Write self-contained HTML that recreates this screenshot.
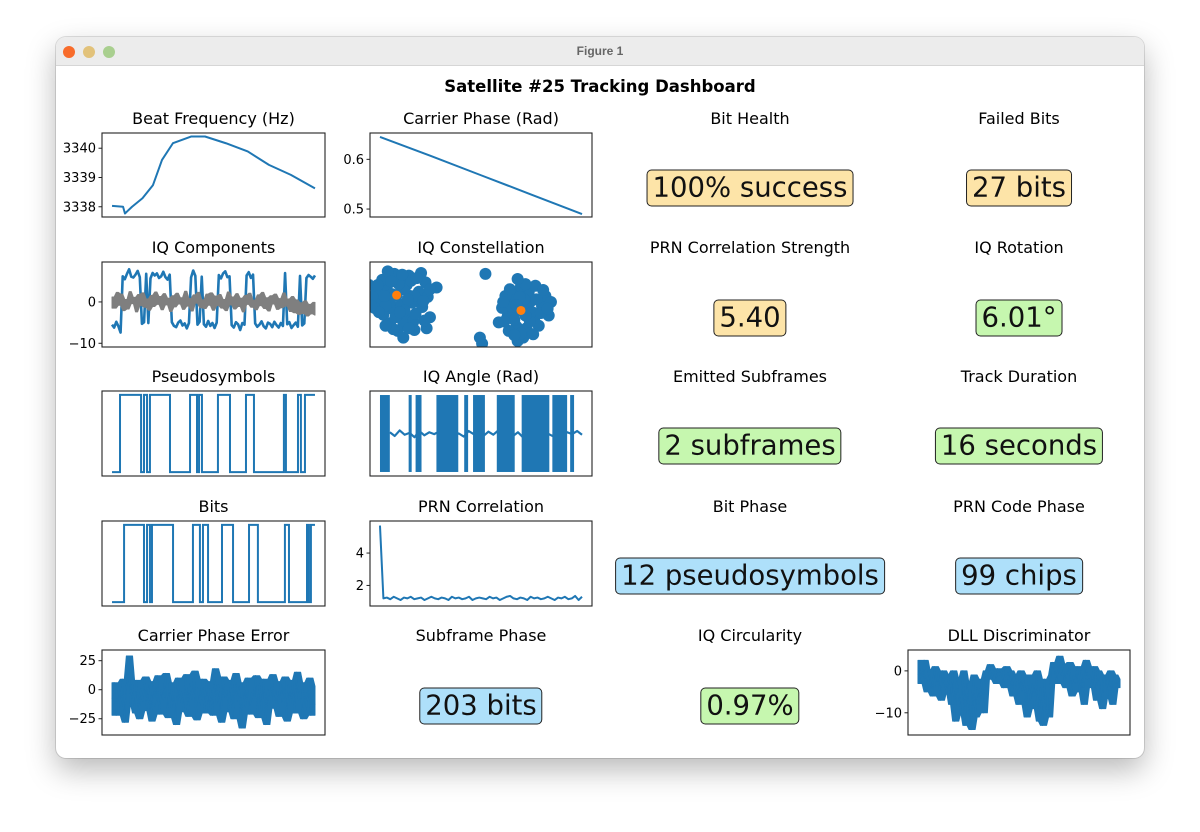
<!DOCTYPE html>
<html><head><meta charset="utf-8"><style>
body{margin:0;background:#fff;width:1200px;height:832px;overflow:hidden;position:relative;font-family:"DejaVu Sans","Liberation Sans",sans-serif}
#win{position:absolute;left:56px;top:37px;width:1088px;height:721px;background:#fff;border-radius:10px;box-shadow:0 12px 30px rgba(0,0,0,0.28),0 0 0 1px rgba(0,0,0,0.12);overflow:hidden}
#bar{position:absolute;left:0;top:0;width:1088px;height:28px;background:#ececec;border-bottom:1px solid #d6d6d6}
#bar .t{position:absolute;left:0;width:100%;top:7px;text-align:center;font:bold 12px "Liberation Sans",sans-serif;color:#666}
.dot{position:absolute;top:9px;width:12px;height:12px;border-radius:50%}
.val{position:absolute;transform:translate(-50%,-50%);font-size:27.5px;line-height:33px;padding:1px 5px 1px 5px;border:1.3px solid #222;border-radius:5px;white-space:nowrap;color:#111}
.y{background:#fde4a8}.g{background:#c6f7af}.b{background:#aee0fa}
svg{position:absolute;left:0;top:0}
</style></head><body>
<div id="win">
<div id="bar">
<div class="dot" style="left:7px;background:#f86c2b"></div>
<div class="dot" style="left:27px;background:#e2c27a"></div>
<div class="dot" style="left:47px;background:#a9cf8f"></div>
<div class="t">Figure 1</div>
</div>
</div>
<svg id="chart" width="1200" height="832" font-family="DejaVu Sans, Liberation Sans, sans-serif">
<text x="600" y="92" text-anchor="middle" font-weight="bold" font-size="16.5" fill="#000">Satellite #25 Tracking Dashboard</text>
</svg>
<div class="val y" style="left:750px;top:188px">100% success</div>
<div class="val y" style="left:1019px;top:188px">27 bits</div>
<div class="val y" style="left:750px;top:318px">5.40</div>
<div class="val g" style="left:1019px;top:318px">6.01°</div>
<div class="val g" style="left:750px;top:446px">2 subframes</div>
<div class="val g" style="left:1019px;top:446px">16 seconds</div>
<div class="val b" style="left:750px;top:576px">12 pseudosymbols</div>
<div class="val b" style="left:1019px;top:576px">99 chips</div>
<div class="val b" style="left:481px;top:706px">203 bits</div>
<div class="val g" style="left:750px;top:706px">0.97%</div>
<script>
// ---- data ----
const beatT=[0,0.87,1.02,1.58,2.4,3.23,3.94,4.8,6.23,7.33,8.98,10.7,12.37,14.1,16];
const beatHz=[3338.03,3338.0,3337.77,3338.0,3338.29,3338.74,3339.6,3340.17,3340.4,3340.4,3340.17,3339.89,3339.43,3339.09,3338.63];
const phaseT=[0,4,8,12,16];
const phaseRad=[0.645,0.607,0.568,0.529,0.49];
const iVals=[-5.5,-6.2,-4.8,-5.9,-7.4,6.2,5.5,6.8,7.9,6.1,5.9,6.6,7.5,6.0,-5.3,-4.9,6.8,-5.1,5.7,7.0,6.4,6.9,5.8,6.2,7.3,6.0,5.4,6.6,-4.9,-5.8,-6.1,-5.0,-4.5,-5.7,-5.2,-6.4,-5.1,5.9,7.6,6.3,-5.5,-4.8,6.1,-5.4,-6.0,-4.6,-5.8,-5.1,-6.3,-5.0,6.5,5.7,6.9,7.4,6.0,6.2,-5.6,-6.2,-4.9,-5.4,-6.8,-5.1,-5.5,6.4,7.2,5.8,6.6,-5.2,-6.0,-5.5,-4.7,-5.9,-6.4,-5.0,-5.3,-6.1,-4.8,-5.6,-6.2,-5.1,-5.8,7.0,-5.4,-4.9,-6.3,-5.6,-5.0,-6.0,6.3,-5.7,-5.2,5.8,6.5,6.1,5.6,6.4];
const qVals=[1.2,-1.5,2.3,-0.8,1.9,-2.1,0.6,-1.7,2.5,-0.4,1.1,-2.4,1.8,-0.9,2.2,-1.3,0.7,-2.0,1.6,-1.1,2.4,-0.6,1.3,-1.9,2.0,-0.7,0.9,-2.3,1.5,-1.2,2.1,-0.5,1.0,-1.8,2.6,-1.0,0.8,-2.2,1.7,-0.3,2.3,-1.4,0.5,-1.6,1.9,-0.8,2.2,-2.0,1.4,-0.9,1.8,-1.5,0.6,-2.1,2.4,-0.7,1.2,-1.7,2.0,-1.1,0.9,-2.4,1.6,-0.6,2.1,-1.3,0.4,-1.9,1.7,-0.9,2.3,-1.6,1.0,-2.2,1.5,-0.5,1.9,-1.8,0.8,-1.4,2.2,-1.0,0.7,-2.3,1.3,-2.6,0.5,-3.0,-0.2,-2.8,0.3,-3.4,-0.6,-2.9,-0.1,-3.2];
const constI=[-7.6,-8.5,-6.7,-9.0,-6.2,-7.9,-8.8,-6.8,-7.3,-5.6,-9.4,-5.3,-7.0,-8.2,-6.1,-9.6,-7.8,-6.5,-5.0,-4.8,-8.9,-9.8,-7.5,-6.0,-4.6,-5.4,-8.4,-10.1,-4.0,-4.9,-7.2,-8.0,-6.4,-7.0,
 -7.0,-8.2,-6.9,-8.6,-7.4,-6.0,-5.9,-8.7,-9.2,-7.7,-6.5,-7.9,-6.3,-5.2,-8.1,-9.3,-5.8,-7.1,-8.6,-7.3,-6.6,-9.9,-4.6,-5.1,
 3.6,2.7,4.5,2.4,4.8,3.2,4.1,3.0,4.3,5.5,1.9,5.8,2.2,3.6,5.2,2.5,3.8,6.3,1.6,4.9,6.1,3.3,2.9,4.2,0.4,-0.1,0.1,
 3.9,3.0,4.6,2.8,3.5,5.0,4.4,3.6,2.1,5.4,2.6,4.0,3.2,4.0,2.0,5.6,4.7,3.0,6.0,3.3];
const constQ=[1.1,2.0,2.3,0.5,0.2,-0.6,-1.2,-1.5,3.0,1.5,1.6,-0.3,-2.4,-2.2,-2.0,-0.4,3.6,3.4,2.6,0.9,2.9,0.9,-3.1,-3.0,-1.5,3.7,3.9,2.3,2.0,-2.8,0.0,1.2,1.0,-3.9,
 1.8,0.3,-0.7,-0.1,2.4,1.0,-1.1,1.0,-0.9,-1.5,-2.8,-2.9,2.8,0.4,2.7,2.3,3.1,3.5,-2.5,-0.9,0.6,-0.1,1.8,-1.9,
 -0.7,0.3,0.4,-1.4,-1.6,-2.6,-2.8,1.3,1.5,-0.2,-0.4,1.0,1.0,2.1,-2.5,-3.1,-3.9,0.3,-2.1,2.2,-1.3,-4.3,-0.8,-0.2,3.6,-3.9,-4.6,
 0.6,-1.8,-0.9,-0.3,0.9,0.6,-2.0,-3.4,-2.0,-1.0,1.8,2.4,-0.1,-1.3,0.3,1.7,-3.5,-3.6,-0.5,3.0];
const centerI=[-7.6,3.6];
const centerQ=[1.1,-0.7];
const pseudoT=[0,0.63,2.29,2.52,2.76,2.99,4.57,6.15,6.7,6.86,7.09,8.35,9.3,10.56,11.19,13.55,13.71,14.66,14.89,15.21,16];
const pseudoV=[0,1,0,1,0,1,0,1,0,1,0,1,0,1,0,1,0,1,0,1];
const angleDenseStart=[0,2.27,2.82,4.47,6.67,7.37,9.25,11.22,13.65,15.06];
const angleDenseEnd=[0.78,2.51,3.29,6.2,6.98,8.31,10.67,13.41,14.82,15.37];
const angleFlat=[0.1,-0.2,0.25,-0.1,0.05,-0.3,0.2,-0.15,0.1,-0.05,0.15,-0.2,0.3,-0.1,0.0,-0.25,0.2,-0.05,0.1,-0.2,0.15,-0.1,0.25,-0.15,0.05,-0.2,0.1,-0.3,0.2,-0.05,0.15,-0.1,0.0,-0.2,0.25,-0.15,0.1,-0.05,0.2,-0.1];
const bitsT=[0,0.95,2.52,2.76,2.99,3.15,4.81,6.38,6.93,7.17,7.57,8.67,9.54,10.8,11.5,13.63,13.95,15.37,15.52,15.68,16];
const bitsV=[0,1,0,1,0,1,0,1,0,1,0,1,0,1,0,1,0,1,0,1];
const prnVals=[5.7,1.2,1.25,1.15,1.3,1.2,1.1,1.25,1.2,1.3,1.15,1.2,1.25,1.1,1.2,1.3,1.2,1.15,1.25,1.2,1.1,1.3,1.2,1.25,1.15,1.2,1.3,1.1,1.2,1.25,1.2,1.15,1.3,1.2,1.25,1.1,1.2,1.3,1.35,1.2,1.15,1.25,1.2,1.1,1.3,1.2,1.25,1.15,1.2,1.3,1.2,1.1,1.25,1.2,1.3,1.15,1.2,1.35,1.1,1.3];
const cpeVals=[-8,6,-22,3,-15,9,-28,2,29,-12,5,-20,8,-25,1,-10,11,-18,4,-27,7,-14,12,-21,0,-9,14,-24,6,-16,3,-30,10,-11,-2,-19,13,-23,5,-8,16,-26,2,-13,9,-20,7,-17,1,-22,18,-12,4,-28,11,-6,-1,-19,8,-25,14,-10,3,-33,6,-15,10,-21,-3,-9,12,-24,5,-18,9,-30,2,-12,13,-16,-1,-23,7,-11,11,-27,4,-14,8,-20,15,-9,0,-25,6,-17,10,-22,3,-13];
const dllVals=[-1,0.5,-3,2.5,-5,0,-2,-6,1,-4,-0.5,-7,0,-3,-5,-1,-8,0,-12,-2,-6,-10,0,-13,-3,-9,-14,-1,-11,-4,-8,-2,-10,0,-1,1.5,-2,0,-3,0.5,-1,0,-4,1,-2,0,-6,-1,-3,-8,0,-5,-2,-11,-1,-7,-3,-9,0,-12,-4,-13,-2,-10,-11,-1,2,0,-3,3.5,-1,1.5,-4,0,2,-6,-1,-3,1,-5,0,-8,2.5,-2,-1,-4,1,-7,0,-3,-9,-1,-2,-6,0,-8,-1,-4,-2,-3];
const beatTicks=[3338,3339,3340];
const phaseTicks=[0.5,0.6];
const iqTicks=[-10,0];
const prnTicks=[2,4];
const cpeTicks=[-25,0,25];
const dllTicks=[-10,0];

// ---- helpers ----
const NS='http://www.w3.org/2000/svg';
const svg=document.getElementById('chart');
const BLUE='#1f77b4';
function mk(tag,attrs,parent){const e=document.createElementNS(NS,tag);for(const k in attrs)e.setAttribute(k,attrs[k]);(parent||svg).appendChild(e);return e;}
function lin(d0,d1,r0,r1){return v=>r0+(v-d0)*(r1-r0)/(d1-d0);}
let clipN=0;
function axes(name,title,x,y,w,h,yd,ticks,xd){
  const g=mk('g',{});
  
  
  const t=mk('text',{x:x+w/2,y:y-9,'text-anchor':'middle','font-size':16,fill:'#000'},g);
  t.textContent=title;
  
  
  const id='c'+(clipN++);
  const cp=mk('clipPath',{id:id},g);mk('rect',{x:x,y:y,width:w,height:h},cp);
  const plot=mk('g',{'clip-path':'url(#'+id+')'},g);
  
  
  const sx=lin(xd[0],xd[1],x,x+w), sy=lin(yd[0],yd[1],y+h,y);
  const frame=mk('rect',{x:x,y:y,width:w,height:h,fill:'none',stroke:'#222','stroke-width':1.1},g);
  
  
  (ticks||[]).forEach(v=>{
    const py=sy(v);
    const tk=mk('line',{x1:x-3.5,x2:x,y1:py,y2:py,stroke:'#222','stroke-width':1},g);
    
    
    const lb=mk('text',{x:x-6,y:py+4.5,'text-anchor':'end','font-size':13,fill:'#000'},g);
    lb.textContent=String(v).replace('-','\u2212');
    
    
  });
  return {plot,sx,sy};
}
function line(a,xs,ys,color,sw,name){
  let d='';for(let i=0;i<xs.length;i++)d+=(i?'L':'M')+a.sx(xs[i]).toFixed(2)+' '+a.sy(ys[i]).toFixed(2);
  const p=mk('path',{d:d,fill:'none',stroke:color,'stroke-width':sw,'stroke-linejoin':'round'},a.plot);
  
  
}
// filled min/max envelope over a sliding window to mimic dense noisy traces
function band(a,xs,ys,color,win,name){
  const up=[],lo=[];
  for(let i=0;i<ys.length;i++){
    const s=Math.max(0,i-Math.floor(win/2)), e=Math.min(ys.length,s+win);
    const seg=ys.slice(s,e);
    const x=a.sx(xs[i]).toFixed(2);
    up.push(x+','+a.sy(Math.max(...seg)).toFixed(2));
    lo.unshift(x+','+a.sy(Math.min(...seg)).toFixed(2));
  }
  const p=mk('polygon',{points:up.concat(lo).join(' '),fill:color,stroke:color,'stroke-width':1,'stroke-linejoin':'round'},a.plot);
  
  
}
function idxT(n){const r=[];for(let i=0;i<n;i++)r.push(i*16/(n-1));return r;}
function step(a,ts,vs,name){
  let d='M'+a.sx(ts[0])+' '+a.sy(vs[0]);
  for(let i=0;i<vs.length;i++){d+='H'+a.sx(ts[i+1]);if(i+1<vs.length)d+='V'+a.sy(vs[i+1]);}
  const p=mk('path',{d:d,fill:'none',stroke:BLUE,'stroke-width':2},a.plot);
  
  
}
const XD=[-0.79,16.79];
const C1=102,C2=370,C4=908,W=223;
const R=[133,262,391,521,650],H=85;

let a=axes('beat-frequency','Beat Frequency (Hz)',C1,R[0],W,84,[3337.65,3340.52],beatTicks,XD);
line(a,beatT,beatHz,BLUE,2,'beat-frequency-line');
a=axes('carrier-phase','Carrier Phase (Rad)',C2,R[0],222,84,[0.484,0.653],phaseTicks,XD);
line(a,phaseT,phaseRad,BLUE,2,'carrier-phase-line');
a=axes('iq-components','IQ Components',C1,R[1],W,H,[-10.9,9.66],iqTicks,XD);
line(a,idxT(iVals.length),iVals,BLUE,2.6,'i-component-line');
band(a,idxT(qVals.length),qVals,'#7f7f7f',2,'q-component-band');
a=axes('iq-constellation','IQ Constellation',C2,R[1],222,H,[-5,5],[], [-10,10]);
constI.forEach((v,i)=>{
  const c=mk('circle',{cx:a.sx(v),cy:a.sy(constQ[i]),r:6,fill:BLUE},a.plot);
  
  
});
centerI.forEach((v,i)=>{
  const c=mk('circle',{cx:a.sx(v),cy:a.sy(centerQ[i]),r:4.5,fill:'#ff7f0e'},a.plot);
  
  
});
a=axes('pseudosymbols','Pseudosymbols',C1,R[2],W,H,[-0.05,1.05],[],XD);
step(a,pseudoT,pseudoV,'pseudosymbols-line');
a=axes('iq-angle','IQ Angle (Rad)',C2,R[2],222,H,[-3.47,3.47],[],XD);
line(a,idxT(angleFlat.length).map(t=>0.78+t*(16-0.78)/16),angleFlat,BLUE,2.2,'iq-angle-flat-line');
angleDenseStart.forEach((s,i)=>{
  const r=mk('rect',{x:a.sx(s),y:a.sy(Math.PI),width:a.sx(angleDenseEnd[i])-a.sx(s),height:a.sy(-Math.PI)-a.sy(Math.PI),fill:BLUE},a.plot);
  
  
});
a=axes('bits','Bits',C1,R[3],W,H,[-0.05,1.05],[],XD);
step(a,bitsT,bitsV,'bits-line');
a=axes('prn-correlation','PRN Correlation',C2,R[3],222,H,[0.73,5.98],prnTicks,XD);
line(a,idxT(prnVals.length),prnVals,BLUE,2,'prn-correlation-line');
a=axes('carrier-phase-error','Carrier Phase Error',C1,R[4],W,H,[-39,34.2],cpeTicks,XD);
band(a,idxT(cpeVals.length),cpeVals,BLUE,4,'carrier-phase-error-band');
line(a,idxT(cpeVals.length),cpeVals,BLUE,1.2,'carrier-phase-error-line');
a=axes('dll-discriminator','DLL Discriminator',C4,R[4],222,H,[-15.3,4.98],dllTicks,XD);
band(a,idxT(dllVals.length),dllVals,BLUE,4,'dll-discriminator-band');
line(a,idxT(dllVals.length),dllVals,BLUE,1.2,'dll-discriminator-line');

const vt=[['Bit Health',750,R[0]],['Failed Bits',1019,R[0]],['PRN Correlation Strength',750,R[1]],['IQ Rotation',1019,R[1]],['Emitted Subframes',750,R[2]],['Track Duration',1019,R[2]],['Bit Phase',750,R[3]],['PRN Code Phase',1019,R[3]],['Subframe Phase',481,R[4]],['IQ Circularity',750,R[4]]];
vt.forEach(v=>{
  const t=mk('text',{x:v[1],y:v[2]-9,'text-anchor':'middle','font-size':16,fill:'#000'});
  t.textContent=v[0];
  
  
});
</script>
</body></html>
